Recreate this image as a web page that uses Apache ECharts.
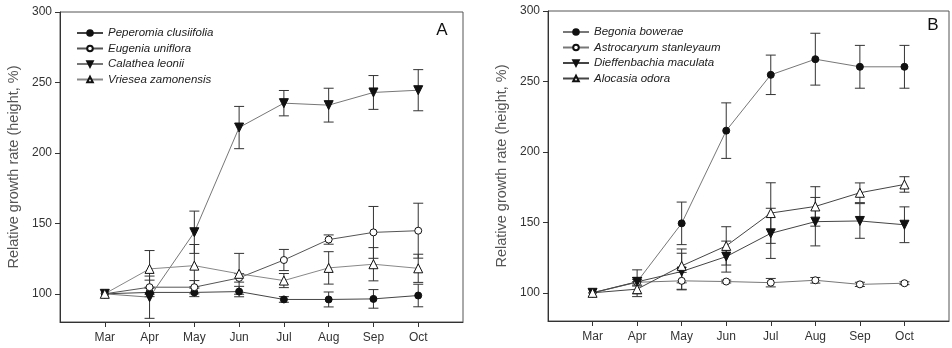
<!DOCTYPE html>
<html><head><meta charset="utf-8">
<script src="https://cdn.jsdelivr.net/npm/echarts@6/dist/echarts.min.js"></script>
<style>html,body{margin:0;padding:0;background:#fff}#c{width:952px;height:348px}</style>
</head><body><div id="c"></div><script>
const months = ['Mar','Apr','May','Jun','Jul','Aug','Sep','Oct'];
const yTicks = [100,150,200,250,300];
const yTitle = 'Relative growth rate (height, %)';
// Panel A
const namesA = ['Peperomia clusiifolia','Eugenia uniflora','Calathea leonii','Vriesea zamonensis'];
const peperomiaMean = [100, 101, 101, 101.6, 96, 96, 96.4, 98.8];
const peperomiaErr  = [0, 3, 3, 3.7, 2, 5.3, 6.6, 8];
const eugeniaMean   = [100, 104.7, 104.7, 111.3, 124, 138.5, 143.6, 144.8];
const eugeniaErr    = [0, 5, 4.7, 3, 7.5, 3.3, 18.4, 19.5];
const calatheaMean  = [100, 97.6, 143.7, 218, 235.3, 233.9, 242.9, 244.5];
const calatheaErr   = [0, 15, 15, 15, 9, 12, 12, 14.6];
const vrieseaMean   = [100, 117.7, 120, 114.2, 109.4, 118.4, 121, 118.1];
const vrieseaErr    = [0, 13, 15, 14.5, 5, 11.5, 11.8, 10];
// Panel B
const namesB = ['Begonia bowerae','Astrocaryum stanleyaum','Dieffenbachia maculata','Alocasia odora'];
const begoniaMean   = [100, 107.8, 149.3, 215.1, 254.7, 265.8, 260.4, 260.4];
const begoniaErr    = [0, 8.5, 15.1, 19.7, 14, 18.4, 15.2, 15.2];
const astroMean     = [100, 107.5, 108.5, 108, 107.2, 108.9, 106, 106.8];
const astroErr      = [0, 2, 6, 1, 3, 2, 1.5, 1];
const dieffMean     = [100, 107.8, 115.1, 125.7, 142.2, 150.5, 151, 148.3];
const dieffErr      = [0, 3, 13, 11, 17.8, 17.2, 12.3, 12.7];
const alocasiaMean  = [100, 102.6, 119.1, 133.3, 156.6, 161.3, 171, 176.9];
const alocasiaErr   = [0, 5.3, 12, 13.6, 21.5, 14, 7, 5.5];

const FONT = 'Liberation Sans, Arial, sans-serif';
const cats = [''].concat(months).concat(['']);
const triDown = 'path://M0,0 L10,0 L5,10 Z';

function xAxis(gi){
  return {type:'category', gridIndex:gi, data:cats, boundaryGap:false,
    axisLine:{show:true, lineStyle:{color:'#333', width:1}},
    axisTick:{show:true, length:5, inside:false, interval:function(i){return i>0 && i<cats.length-1;}, lineStyle:{color:'#333'}},
    axisLabel:{show:true, interval:0, margin:10, color:'#333', fontSize:12, fontFamily:FONT},
    splitLine:{show:false}};
}
function yAxis(gi){
  return {type:'value', gridIndex:gi, min:80, max:300,
    name:yTitle, nameLocation:'middle', nameGap:39, nameRotate:90,
    nameTextStyle:{color:'#555', fontSize:14.5, fontFamily:FONT},
    axisLine:{show:true, lineStyle:{color:'#333', width:1}},
    axisTick:{show:true, length:5, customValues:yTicks, lineStyle:{color:'#333'}},
    axisLabel:{show:true, customValues:yTicks, margin:8, color:'#333', fontSize:12, fontFamily:FONT},
    splitLine:{show:false}};
}
function lineSeries(gi, name, mean, symbol, size, filled, lineColor){
  return {type:'line', name:name, xAxisIndex:gi, yAxisIndex:gi,
    data: mean.map(function(v,i){return [i+1, v];}),
    symbol:symbol, symbolSize:size, showSymbol:true, z:3,
    lineStyle:{color:lineColor, width:1},
    itemStyle:{color: filled ? '#111' : '#fff', borderColor:'#111', borderWidth:1},
    emphasis:{disabled:true}, animation:false};
}
function errSeries(gi, mean, err){
  const d = [];
  mean.forEach(function(v,i){ if (err[i] > 0) d.push([i+1, v-err[i], v+err[i]]); });
  return {type:'custom', xAxisIndex:gi, yAxisIndex:gi, data:d, z:2, animation:false,
    encode:{x:0, y:[1,2]},
    renderItem:function(params, api){
      const x = api.value(0);
      const lo = api.coord([x, api.value(1)]);
      const hi = api.coord([x, api.value(2)]);
      const hw = 5;
      const st = {stroke:'#333', lineWidth:1};
      return {type:'group', children:[
        {type:'line', shape:{x1:lo[0], y1:lo[1], x2:hi[0], y2:hi[1]}, style:st},
        {type:'line', shape:{x1:lo[0]-hw, y1:lo[1], x2:lo[0]+hw, y2:lo[1]}, style:st},
        {type:'line', shape:{x1:hi[0]-hw, y1:hi[1], x2:hi[0]+hw, y2:hi[1]}, style:st}
      ]};
    }};
}
function legend(left, top, names){
  return {left:left, top:top, orient:'vertical', data:names, itemWidth:26, itemHeight:7, itemGap:1.5,
    selectedMode:false,
    textStyle:{fontStyle:'italic', fontSize:11.5, lineHeight:14, color:'#222', fontFamily:FONT}};
}

const chart = echarts.init(document.getElementById('c'), null, {renderer:'canvas'});
chart.setOption({
  animation:false,
  backgroundColor:'#fff',
  grid:[
    {left:60, top:12, width:403, height:310, show:true, borderColor:'#555', borderWidth:1, backgroundColor:'transparent'},
    {left:548, top:11, width:403, height:310, show:true, borderColor:'#555', borderWidth:1, backgroundColor:'transparent'}
  ],
  xAxis:[xAxis(0), xAxis(1)],
  yAxis:[yAxis(0), yAxis(1)],
  legend:[legend(71, 21, namesA), legend(557, 20, namesB)],
  graphic:[
    {type:'text', x:442, y:30, style:{text:'A', fontSize:17, fill:'#111', fontFamily:FONT, align:'center', verticalAlign:'middle'}},
    {type:'text', x:933, y:25, style:{text:'B', fontSize:17, fill:'#111', fontFamily:FONT, align:'center', verticalAlign:'middle'}}
  ],
  series:[
    errSeries(0, peperomiaMean, peperomiaErr),
    errSeries(0, eugeniaMean, eugeniaErr),
    errSeries(0, calatheaMean, calatheaErr),
    errSeries(0, vrieseaMean, vrieseaErr),
    lineSeries(0, namesA[0], peperomiaMean, 'circle', 7, true, '#444'),
    lineSeries(0, namesA[1], eugeniaMean, 'circle', 7, false, '#555'),
    lineSeries(0, namesA[2], calatheaMean, triDown, 9, true, '#777'),
    lineSeries(0, namesA[3], vrieseaMean, 'triangle', 9, false, '#888'),
    errSeries(1, begoniaMean, begoniaErr),
    errSeries(1, astroMean, astroErr),
    errSeries(1, dieffMean, dieffErr),
    errSeries(1, alocasiaMean, alocasiaErr),
    lineSeries(1, namesB[0], begoniaMean, 'circle', 7, true, '#777'),
    lineSeries(1, namesB[1], astroMean, 'circle', 7, false, '#777'),
    lineSeries(1, namesB[2], dieffMean, triDown, 9, true, '#444'),
    lineSeries(1, namesB[3], alocasiaMean, 'triangle', 9, false, '#444')
  ]
});
</script></body></html>
